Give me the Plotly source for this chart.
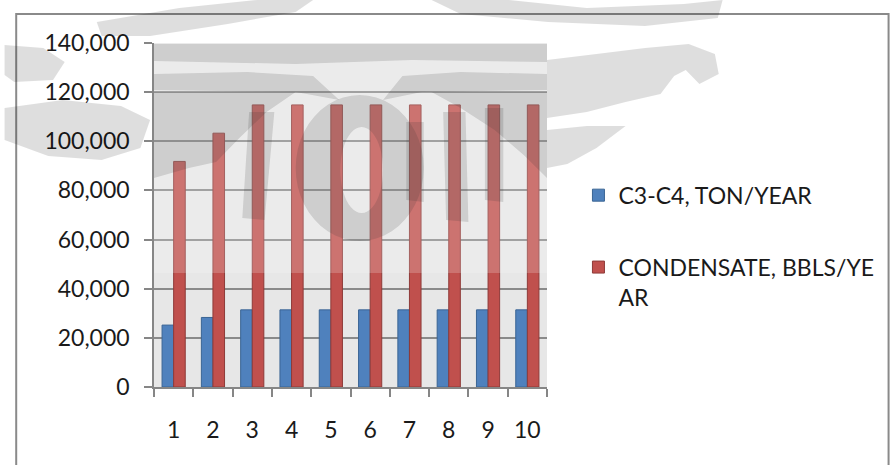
import math
import plotly.graph_objects as go

years = ["1", "2", "3", "4", "5", "6", "7", "8", "9", "10"]
c3c4_ton_per_year = [25200, 28300, 31400, 31400, 31400, 31400, 31400, 31400, 31400, 31400]
condensate_bbls_per_year = [91800, 103300, 114800, 114800, 114800, 114800, 114800, 114800, 114800, 114800]
y_ticks = [0, 20000, 40000, 60000, 80000, 100000, 120000, 140000]

FONT = "Lato"
W, H = 891, 465
L, R, T, B = 154, 332, 43, 78
PW, PH = W - L - R, H - T - B


def px(x, y):
    """Pixel position on the page -> paper coordinates."""
    return (x - L) / PW, 1 - (y - T) / PH


def path(points):
    parts = []
    for i, (x, y) in enumerate(points):
        u, v = px(x, y)
        parts.append(("M" if i == 0 else "L") + f"{u:.4f},{v:.4f}")
    return " ".join(parts) + " Z"


def ellipse(cx, cy, rx, ry, n=48, reverse=False):
    pts = [(cx + rx * math.cos(2 * math.pi * k / n), cy + ry * math.sin(2 * math.pi * k / n))
           for k in range(n)]
    return pts[::-1] if reverse else pts


fig = go.Figure()
fig.add_trace(go.Bar(
    x=years, y=c3c4_ton_per_year, name="C3-C4, TON/YEAR",
    marker=dict(color="#4f81bd", line=dict(color="#3a6494", width=1)),
    legendgroup="a",
))
fig.add_trace(go.Bar(
    x=years, y=condensate_bbls_per_year, name="CONDENSATE, BBLS/YE<br>AR",
    marker=dict(color="#c0504d", line=dict(color="#8e3a38", width=1)),
    legendgroup="b",
))

# faint background emblem over the upper part of the page
SHADE = "rgba(0,0,0,0.16)"
SHADE_OUT = "rgba(0,0,0,0.13)"
emblem_inner = [
    # horizontal bands near the top of the plot
    [(154, 44), (559, 44), (559, 62), (420, 60), (300, 64), (154, 61)],
    [(154, 74), (250, 72), (318, 76), (345, 100), (300, 92), (154, 90)],
    [(559, 74), (470, 72), (410, 76), (390, 100), (430, 92), (559, 90)],
    # left wing
    [(154, 92), (300, 92), (270, 112), (242, 138), (218, 162), (190, 168), (154, 178)],
    # right wing
    [(559, 92), (440, 92), (470, 108), (505, 130), (535, 155), (559, 178)],
    # diagonal strokes
    [(252, 112), (278, 112), (268, 220), (245, 218)],
    [(452, 112), (475, 112), (478, 222), (455, 220)],
    [(414, 122), (432, 122), (432, 202), (414, 200)],
    [(495, 108), (514, 108), (514, 202), (495, 200)],
]
emblem_outer = [
    # thin sweeps above the plot
    [(95, 22), (180, 8), (260, 0), (318, 0), (300, 12), (230, 24), (150, 36), (100, 36)],
    [(440, 0), (520, 0), (600, 8), (700, 4), (740, 0), (735, 18), (660, 26), (560, 22), (470, 14)],
    # curls left of the plot
    [(0, 45), (40, 48), (62, 62), (50, 80), (10, 82), (0, 75)],
    [(0, 108), (60, 100), (120, 106), (150, 120), (140, 148), (100, 160), (45, 156), (0, 140)],
    # curls right of the plot
    [(559, 60), (610, 54), (660, 48), (705, 44), (732, 54), (736, 74), (716, 84), (702, 70),
     (690, 76), (676, 94), (640, 102), (600, 112), (559, 118)],
    [(559, 130), (600, 126), (640, 126), (610, 148), (580, 164), (559, 168)],
]
shapes = [dict(type="path", path=path(p), xref="paper", yref="paper",
               fillcolor=SHADE, line=dict(width=0), layer="above") for p in emblem_inner]
shapes += [dict(type="path", path=path(p), xref="paper", yref="paper",
                fillcolor=SHADE_OUT, line=dict(width=0), layer="above") for p in emblem_outer]
# central ring with a lighter centre
ring = path(ellipse(366, 168, 66, 73)) + " " + path(ellipse(368, 170, 22, 43, reverse=True))
shapes.append(dict(type="path", path=ring, xref="paper", yref="paper",
                   fillcolor=SHADE, line=dict(width=0), layer="above"))
# light wash over the upper plot
wx0, wy1 = px(154, 43)
wx1, wy0 = px(559, 273)
shapes.append(dict(type="rect", xref="paper", yref="paper", x0=wx0, x1=wx1, y0=wy0, y1=wy1,
                   fillcolor="rgba(255,255,255,0.2)", line=dict(width=0), layer="above"))
# chart frame running off the right and bottom edges
fx0, fy1 = px(12, 14)
fx1, fy0 = px(W + 20, H + 20)
shapes.append(dict(type="rect", xref="paper", yref="paper", x0=fx0, x1=fx1, y0=fy0, y1=fy1,
                   line=dict(color="#8a8a8a", width=2), fillcolor="rgba(0,0,0,0)", layer="below"))

fig.update_layout(
    width=W, height=H,
    margin=dict(l=L, r=R, t=T, b=B, pad=0),
    paper_bgcolor="white",
    plot_bgcolor="#e7e7e7",
    barmode="group",
    bargap=0.41,
    bargroupgap=0,
    font=dict(family=FONT, size=23, color="#1a1a1a"),
    legend=dict(
        x=1.08, y=0.62, xanchor="left", yanchor="top",
        traceorder="grouped", tracegroupgap=39,
        valign="top", bgcolor="rgba(0,0,0,0)",
        font=dict(family=FONT, size=23, color="#1a1a1a"),
        itemwidth=30,
    ),
    xaxis=dict(
        type="category", showgrid=False, showline=True, linecolor="#868686",
        linewidth=1.5, ticks="outside", tickson="boundaries", ticklen=8,
        tickcolor="#868686", tickwidth=1.5, ticklabelstandoff=22,
    ),
    yaxis=dict(
        range=[0, 140000], tickvals=y_ticks, tickformat=",d",
        showgrid=True, gridcolor="#8a8a8a", gridwidth=1.5,
        showline=True, linecolor="#868686", linewidth=1.5,
        ticks="outside", ticklen=8, tickcolor="#868686", tickwidth=1.5,
        ticklabelstandoff=10, zeroline=False,
    ),
    shapes=shapes,
)

fig.write_html("out.html")
